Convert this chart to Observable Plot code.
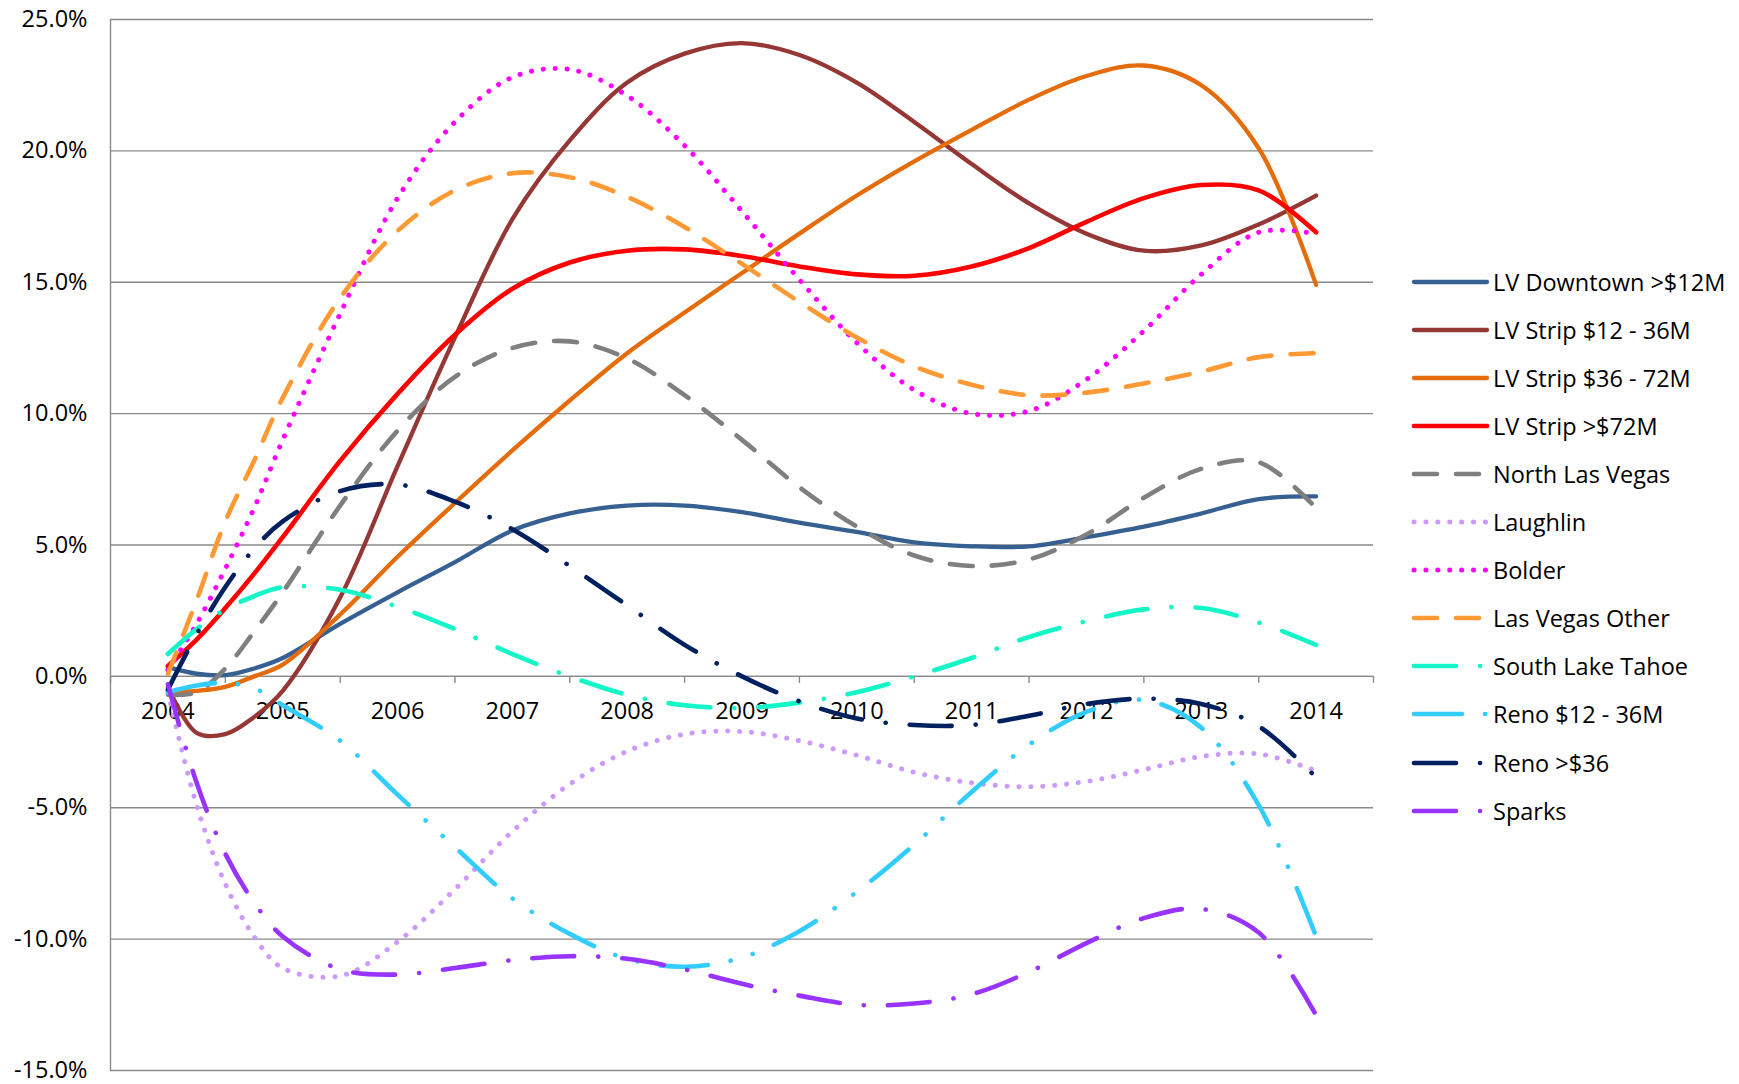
<!DOCTYPE html>
<html><head><meta charset="utf-8">
<script src="https://cdn.jsdelivr.net/npm/d3@7"></script>
<script src="https://cdn.jsdelivr.net/npm/@observablehq/plot@0.6"></script>
<style>
body{margin:0;background:#fff;}
#wrap{position:relative;width:1739px;height:1084px;font-family:"Open Sans",sans-serif;background:#fff;}
#legend{position:absolute;left:1411px;top:257.6px;}
.row{display:flex;align-items:center;height:48.1px;font-size:23.5px;color:#000;white-space:nowrap;}
.row svg{margin-right:2px;flex:none;}
</style></head><body><div id="wrap"></div>
<script>
// sample positions (years)
const years = [2004, 2004.25, 2004.5, 2004.75, 2005, 2005.5, 2006, 2006.5, 2007, 2007.5, 2008, 2008.5, 2009, 2009.5, 2010, 2010.5, 2011, 2011.5, 2012, 2012.5, 2013, 2013.5, 2014];
const yearLabels = [2004, 2005, 2006, 2007, 2008, 2009, 2010, 2011, 2012, 2013, 2014];
const yTicks = [-15, -10, -5, 0, 5, 10, 15, 20, 25];

const seriesNames = ["LV Downtown >$12M", "LV Strip $12 - 36M", "LV Strip $36 - 72M", "LV Strip >$72M", "North Las Vegas", "Laughlin", "Bolder", "Las Vegas Other", "South Lake Tahoe", "Reno $12 - 36M", "Reno >$36", "Sparks"];

const lvDowntown = [0.35, 0.1, 0.05, 0.3, 0.7, 2.0, 3.2, 4.35, 5.55, 6.2, 6.5, 6.5, 6.25, 5.85, 5.5, 5.1, 4.95, 4.95, 5.3, 5.7, 6.2, 6.75, 6.85];
const lvStrip12 = [-0.4, -2.15, -2.2, -1.55, -0.55, 3.0, 8.0, 12.9, 17.4, 20.4, 22.6, 23.7, 24.1, 23.65, 22.6, 21.1, 19.5, 18.0, 16.85, 16.2, 16.4, 17.2, 18.3];
const lvStrip36 = [-0.6, -0.55, -0.4, 0.0, 0.45, 2.35, 4.55, 6.6, 8.6, 10.5, 12.3, 13.85, 15.35, 16.85, 18.3, 19.6, 20.8, 21.95, 22.85, 23.25, 22.5, 20.1, 14.9];
const lvStrip72 = [0.4, 1.4, 2.6, 3.9, 5.3, 8.2, 10.75, 13.0, 14.75, 15.75, 16.2, 16.25, 16.0, 15.6, 15.3, 15.25, 15.6, 16.3, 17.3, 18.2, 18.7, 18.5, 16.9];
const northLV = [-0.7, -0.6, 0.3, 1.7, 3.2, 6.5, 9.35, 11.4, 12.5, 12.75, 12.1, 10.7, 9.0, 7.2, 5.7, 4.6, 4.2, 4.45, 5.4, 6.8, 7.9, 8.15, 6.4];
const laughlin = [-0.6, -4.9, -7.9, -9.9, -11.1, -11.4, -10.1, -8.1, -5.9, -4.1, -2.85, -2.2, -2.1, -2.45, -3.0, -3.65, -4.05, -4.2, -4.0, -3.55, -3.05, -2.95, -3.6];
const bolder = [0.25, 2.0, 4.1, 6.4, 9.0, 13.8, 18.2, 21.1, 22.8, 23.1, 22.1, 20.2, 17.7, 15.1, 12.7, 10.9, 10.0, 10.1, 11.3, 13.15, 15.3, 16.9, 16.85];
const lvOther = [0.1, 2.9, 5.9, 8.2, 10.6, 14.4, 16.95, 18.5, 19.15, 19.0, 18.25, 17.1, 15.7, 14.25, 12.9, 11.8, 11.1, 10.7, 10.8, 11.15, 11.6, 12.15, 12.3];
const tahoe = [0.85, 1.8, 2.55, 3.05, 3.4, 3.3, 2.65, 1.8, 0.85, 0.0, -0.7, -1.1, -1.2, -1.0, -0.6, 0.0, 0.7, 1.5, 2.1, 2.55, 2.6, 2.05, 1.2];
const reno12 = [-0.6, -0.35, -0.25, -0.45, -1.1, -2.45, -4.5, -6.5, -8.45, -9.8, -10.75, -11.05, -10.7, -9.7, -8.2, -6.4, -4.4, -2.6, -1.35, -0.9, -1.95, -4.9, -9.9];
const renoBig = [-0.5, 1.6, 3.4, 4.85, 5.9, 7.05, 7.3, 6.65, 5.6, 4.2, 2.7, 1.2, 0.0, -0.95, -1.6, -1.85, -1.85, -1.5, -1.05, -0.85, -1.05, -1.9, -3.85];
const sparks = [-0.3, -4.05, -6.75, -8.6, -9.9, -11.15, -11.35, -11.1, -10.8, -10.65, -10.75, -11.15, -11.7, -12.15, -12.5, -12.45, -12.1, -11.25, -10.15, -9.2, -8.85, -9.75, -12.9];

const seriesValues = [lvDowntown, lvStrip12, lvStrip36, lvStrip72, northLV, laughlin, bolder, lvOther, tahoe, reno12, renoBig, sparks];

// styles
const SOLID = null, LONGDASH = "23 19", DOT = "0.1 11.8", DASHDOT = "42 24 0.1 24", DASHDOTDOT = "48 23 0.1 23 0.1 23";
const styles = [
  {color: "#376092", dash: SOLID, w: 4.3},
  {color: "#953735", dash: SOLID, w: 4.3},
  {color: "#E46C0A", dash: SOLID, w: 4.3},
  {color: "#FF0000", dash: SOLID, w: 4.6},
  {color: "#7F7F7F", dash: LONGDASH, w: 4.6},
  {color: "#CC99FF", dash: DOT, w: 5},
  {color: "#FF00FF", dash: DOT, w: 5},
  {color: "#FF9933", dash: LONGDASH, w: 4.6},
  {color: "#14F5C8", dash: DASHDOT, w: 4.6},
  {color: "#33CCFF", dash: DASHDOTDOT, w: 4.6},
  {color: "#002060", dash: DASHDOT, w: 4.6},
  {color: "#9933FF", dash: DASHDOT, w: 4.6}
];

const W = 1739, H = 1084, mL = 110, mR = 366, mT = 19, mB = 14;
const pxPerUnit = (H - mT - mB) / 40;
const tickBounds = yearLabels.map(y => y - 0.5).concat([yearLabels[yearLabels.length - 1] + 0.5]);
const axisColor = "#8A8A8A";
const FS = 23.5;

const lineMarks = seriesValues.map((vals, k) => {
  const st = styles[k];
  const data = years.map((x, i) => ({x, y: vals[i]}));
  const opts = {x: "x", y: "y", stroke: st.color, strokeWidth: st.w, curve: "catmull-rom", strokeLinecap: "round", strokeLinejoin: "round"};
  if (st.dash) opts.strokeDasharray = st.dash;
  return Plot.line(data, opts);
});

const chart = Plot.plot({
  width: W, height: H,
  marginLeft: mL, marginRight: mR, marginTop: mT, marginBottom: mB,
  x: {domain: [2003.5, 2014.5], axis: null},
  y: {domain: [-15, 25], axis: null},
  style: {fontFamily: "'Open Sans', sans-serif", fontSize: FS + "px", background: "white", color: "black"},
  marks: [
    Plot.gridY(yTicks, {stroke: axisColor, strokeOpacity: 1, strokeWidth: 1.4}),
    Plot.ruleX([2003.5], {stroke: axisColor, strokeWidth: 1.4}),
    Plot.axisY(yTicks, {tickSize: 0, tickPadding: 23, label: null, tickFormat: d => d.toFixed(1) + "%", fontSize: FS, fill: "black"}),
    Plot.ruleY([0], {stroke: axisColor, strokeWidth: 1.4}),
    Plot.ruleX(tickBounds, {x: d => d, y1: 0, y2: -7 / pxPerUnit, stroke: axisColor, strokeWidth: 1.4}),
    Plot.text(yearLabels, {x: d => d, y: 0, dy: 35, text: d => String(d), fontSize: FS, fill: "black"}),
    ...lineMarks
  ]
});

const wrap = document.getElementById("wrap");
wrap.appendChild(chart);

// legend
const legend = document.createElement("div");
legend.id = "legend";
seriesNames.forEach((name, k) => {
  const st = styles[k];
  const row = document.createElement("div");
  row.className = "row";
  const svg = d3.create("svg").attr("width", 80).attr("height", 12);
  const ln = svg.append("line").attr("x1", 3).attr("x2", 76).attr("y1", 6).attr("y2", 6)
    .attr("stroke", st.color).attr("stroke-width", st.w).attr("stroke-linecap", "round");
  if (st.dash) ln.attr("stroke-dasharray", st.dash);
  row.appendChild(svg.node());
  const span = document.createElement("span");
  span.textContent = name;
  row.appendChild(span);
  legend.appendChild(row);
});
wrap.appendChild(legend);
</script></body></html>
